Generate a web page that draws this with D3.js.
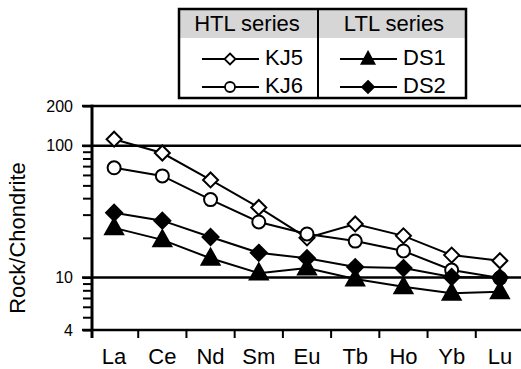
<!DOCTYPE html>
<html>
<head>
<meta charset="utf-8">
<script src="https://cdn.jsdelivr.net/npm/d3@7"></script>
<style>
  body { margin: 0; background: #fff; }
  svg { display: block; font-family: "Liberation Sans", Arial, Helvetica, sans-serif; }
</style>
</head>
<body>
<svg id="chart" width="521" height="369"></svg>
<script>
var elements = ["La", "Ce", "Nd", "Sm", "Eu", "Tb", "Ho", "Yb", "Lu"];
var kj5 = [112, 88, 55, 34, 20, 25.5, 20.7, 14.8, 13.4];
var kj6 = [68, 59, 39, 26.4, 21.4, 18.9, 15.9, 11.4, 9.9];
var ds1 = [23.8, 19.3, 14, 10.8, 11.8, 9.75, 8.5, 7.6, 7.8];
var ds2 = [31, 27, 20.3, 15.4, 14, 12, 11.8, 10.1, 10];
var majorTicks = [200, 100, 10, 4];
var minorTicks = [90, 80, 70, 60, 50, 40, 30, 20, 9, 8, 7, 6, 5];

var svg = d3.select("#chart");
var W = 521;

var x = d3.scaleBand().domain(elements).range([90, 524]);
var y = d3.scaleLog().domain([4, 200]).range([330, 106]);
var axisX = 92;

// markers
function diamond(r) {
    return "M0," + (-r) + "L" + r + ",0L0," + r + "L" + (-r) + ",0Z";
}
function triangle(w, h) {
    return "M0," + (-h * 0.6) + "L" + (w / 2) + "," + (h * 0.4) + "L" + (-w / 2) + "," + (h * 0.4) + "Z";
}
var series = [
    { name: "KJ5", values: kj5, path: diamond(7.5), fill: "#fff", legendPath: diamond(5.5) },
    { name: "KJ6", values: kj6, circle: 6.5, fill: "#fff", legendCircle: 5 },
    { name: "DS2", values: ds2, path: diamond(8), fill: "#000", legendPath: diamond(6) },
    { name: "DS1", values: ds1, path: triangle(18, 16), fill: "#000", legendPath: triangle(13, 12) }
];

// horizontal rules at the major values
svg.selectAll("line.rule")
    .data(majorTicks)
    .enter().append("line")
    .attr("x1", 82).attr("x2", W)
    .attr("y1", function (d) { return y(d); })
    .attr("y2", function (d) { return y(d); })
    .attr("stroke", "#000").attr("stroke-width", 2.6);

// y axis
var yAxis = d3.axisLeft(y)
    .tickValues(majorTicks.concat(minorTicks))
    .tickSize(9)
    .tickPadding(10)
    .tickFormat(function (d) { return majorTicks.indexOf(d) >= 0 ? d : ""; });
var gy = svg.append("g").attr("transform", "translate(" + axisX + ",0)").call(yAxis);
gy.select(".domain").remove();
gy.selectAll(".tick line").attr("stroke", "#000").attr("stroke-width", 2);
gy.selectAll(".tick text").attr("font-size", 16).attr("fill", "#000")
    .attr("font-family", "Liberation Sans, Arial, sans-serif");
svg.append("line")
    .attr("x1", axisX).attr("x2", axisX)
    .attr("y1", y(200) - 1.3).attr("y2", 338)
    .attr("stroke", "#000").attr("stroke-width", 3);

// x axis ticks between categories
svg.selectAll("line.xtick")
    .data(elements.slice(1))
    .enter().append("line")
    .attr("x1", function (d) { return x(d); })
    .attr("x2", function (d) { return x(d); })
    .attr("y1", y(4)).attr("y2", y(4) + 8)
    .attr("stroke", "#000").attr("stroke-width", 2);
svg.selectAll("text.xlab")
    .data(elements)
    .enter().append("text")
    .attr("x", function (d) { return x(d) + x.bandwidth() / 2; })
    .attr("y", 364)
    .attr("text-anchor", "middle")
    .attr("font-size", 22)
    .text(function (d) { return d; });

svg.append("text")
    .attr("transform", "translate(25,238) rotate(-90)")
    .attr("text-anchor", "middle")
    .attr("font-size", 22)
    .text("Rock/Chondrite");

// series lines
var line = d3.line()
    .x(function (d, i) { return x(elements[i]) + x.bandwidth() / 2; })
    .y(function (d) { return y(d); });

series.forEach(function (s) {
    svg.append("path")
        .attr("d", line(s.values))
        .attr("fill", "none").attr("stroke", "#000").attr("stroke-width", 2);
});
series.forEach(function (s) {
    var g = svg.append("g");
    var pts = g.selectAll("g.pt").data(s.values).enter().append("g")
        .attr("transform", function (d, i) {
            return "translate(" + (x(elements[i]) + x.bandwidth() / 2) + "," + y(d) + ")";
        });
    if (s.circle) {
        pts.append("circle").attr("r", s.circle)
            .attr("fill", s.fill).attr("stroke", "#000").attr("stroke-width", 2);
    } else {
        pts.append("path").attr("d", s.path)
            .attr("fill", s.fill).attr("stroke", "#000").attr("stroke-width", 2);
    }
});

// legend
var legend = svg.append("g");
legend.append("rect").attr("x", 179).attr("y", 9).attr("width", 287).attr("height", 29)
    .attr("fill", "#d6d6d6");
legend.append("rect").attr("x", 179).attr("y", 9).attr("width", 287).attr("height", 89)
    .attr("fill", "none").attr("stroke", "#000").attr("stroke-width", 2.5);
legend.append("line").attr("x1", 318).attr("x2", 318).attr("y1", 9).attr("y2", 98)
    .attr("stroke", "#000").attr("stroke-width", 2);
legend.append("text").attr("x", 247).attr("y", 31).attr("text-anchor", "middle")
    .attr("font-size", 22).text("HTL series");
legend.append("text").attr("x", 394).attr("y", 31).attr("text-anchor", "middle")
    .attr("font-size", 22).text("LTL series");

var legendItems = [
    { s: series[0], x: 202, y: 59 },
    { s: series[1], x: 202, y: 87 },
    { s: series[3], x: 340, y: 59 },
    { s: series[2], x: 340, y: 87 }
];
legendItems.forEach(function (it) {
    var g = legend.append("g").attr("transform", "translate(" + it.x + "," + it.y + ")");
    g.append("line").attr("x1", 0).attr("x2", 57).attr("stroke", "#000").attr("stroke-width", 2);
    var m = g.append("g").attr("transform", "translate(28,0)");
    if (it.s.legendCircle) {
        m.append("circle").attr("r", it.s.legendCircle)
            .attr("fill", it.s.fill).attr("stroke", "#000").attr("stroke-width", 1.8);
    } else {
        m.append("path").attr("d", it.s.legendPath)
            .attr("fill", it.s.fill).attr("stroke", "#000").attr("stroke-width", 1.8);
    }
    g.append("text").attr("x", 63).attr("y", 6).attr("font-size", 22).text(it.s.name);
});
</script>
</body>
</html>
